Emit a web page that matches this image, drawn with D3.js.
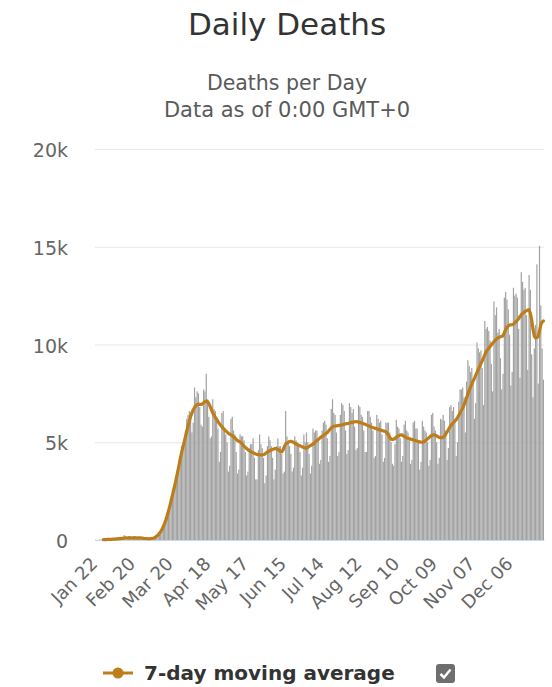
<!DOCTYPE html>
<html>
<head>
<meta charset="utf-8">
<script src="https://cdn.jsdelivr.net/npm/d3@7"></script>
<style>
  body { margin: 0; background: #fff; }
  svg text { font-family: "DejaVu Sans", Verdana, sans-serif; }
</style>
</head>
<body>
<svg id="chart" width="552" height="687"></svg>
<script>
// categories: one per day, Jan 22 .. Dec 31 2020
var firstDay = new Date(2020, 0, 22), lastDay = new Date(2021, 0, 1);
var tickLabels = ["Jan 22", "Feb 20", "Mar 20", "Apr 18", "May 17", "Jun 15",
                  "Jul 14", "Aug 12", "Sep 10", "Oct 09", "Nov 07", "Dec 06"];
var yTicks = [0, 5000, 10000, 15000, 20000];

// daily deaths
var dailyDeaths = [
  17, 1, 8, 16, 14, 26, 49, 2, 38, 42,
  46, 45, 57, 65, 66, 72, 70, 85, 87, 100,
  107, 100, 254, 13, 144, 142, 106, 98, 139, 115,
  118, 109, 97, 150, 71, 64, 37, 58, 67, 72,
  66, 71, 94, 97, 105, 140, 230, 260, 320, 400,
  470, 560, 700, 850, 1000, 1250, 1500, 1750, 2050, 2350,
  2500, 2800, 3100, 3500, 3900, 4300, 4800, 4500, 5000, 5600,
  6200, 6400, 6600, 6300, 5500, 6000, 7800, 7300, 7600, 7500,
  6800, 5900, 5800, 7700, 7600, 8500, 7200, 6300, 5200, 5300,
  7200, 6700, 6600, 6200, 5700, 4000, 4500, 6500, 6600, 5600,
  5400, 5000, 3500, 3800, 6200, 6300, 5600, 5400, 4500, 3400,
  3600, 5400, 5300, 5300, 5100, 4500, 3300, 3500, 4700, 4900,
  4900, 5200, 4200, 3100, 3100, 4600, 5400, 4900, 4700, 4200,
  2900, 3300, 4800, 5300, 5100, 4800, 4200, 3100, 3600, 4800,
  5200, 4800, 4800, 4400, 3400, 3500, 6600, 5300, 5100, 4800,
  4400, 3500, 3700, 5300, 5100, 5000, 4900, 4500, 3300, 3700,
  5400, 5000, 5500, 5000, 4400, 3400, 3800, 5700, 5500, 5600,
  5600, 5100, 3900, 4100, 5600, 6000, 6100, 5900, 5200, 4000,
  4300, 6700, 7200, 6500, 6400, 5500, 4300, 4500, 6400, 7000,
  6900, 6600, 5600, 4400, 4600, 7000, 6800, 6500, 6700, 5800,
  4600, 4700, 6900, 6800, 6400, 6300, 5600, 4500, 4500, 6600,
  6600, 6300, 6000, 5600, 4200, 4300, 6400, 6200, 6000, 6100,
  5400, 4000, 4200, 6000, 6000, 6000, 5500, 5000, 3900, 3800,
  4900, 6150, 5800, 5700, 5200, 4000, 4300, 5900, 6100, 5600,
  5500, 5100, 3900, 4100, 6000, 6100, 5700, 5700, 5000, 3600,
  4000, 6100, 5800, 5600, 5500, 5000, 3800, 4100, 6400, 6500,
  5800, 5600, 5000, 3900, 4200, 6200, 6150, 6400, 6100, 5600,
  4100, 4700, 6800, 6900, 6600, 6800, 6200, 4300, 5000, 7070,
  7700, 7700, 7800, 7300, 5500, 8100, 9200, 8900, 8600, 8800,
  8000, 6200, 7000, 10100, 9800, 9600, 9700, 8800, 6900, 11200,
  10800, 10900, 10700, 10200, 9000, 7600, 12200, 11500, 11900, 10600,
  10800, 9300, 7700, 8500, 12400, 12700, 12300, 11800, 10500, 7900,
  8600, 12900, 12500, 12600, 12400, 10800, 8300, 13700, 13200, 12800,
  12900, 11500, 8700, 13550, 12800, 9500, 7300, 9800, 11000, 14100,
  8000, 15050, 12000, 9800, 8200
];

// 7-day moving average (starts on the 7th day)
var maStart = 6;
var movingAvg = [
  20, 16, 22, 28, 31, 31, 37, 40, 43, 47,
  56, 62, 68, 74, 81, 87, 94, 118, 103, 111,
  117, 114, 112, 112, 121, 102, 115, 112, 108, 104,
  94, 85, 78, 76, 69, 64, 67, 75, 82, 110,
  150, 200, 260, 340, 430, 550, 690, 850, 1040, 1250,
  1480, 1730, 2000, 2280, 2560, 2850, 3150, 3480, 3800, 4150,
  4450, 4720, 5000, 5280, 5550, 5820, 6080, 6320, 6500, 6650,
  6780, 6870, 6920, 6950, 6940, 6930, 6960, 7020, 7070, 7100,
  7080, 6980, 6830, 6660, 6500, 6380, 6270, 6170, 6060, 5960,
  5880, 5800, 5720, 5650, 5580, 5520, 5460, 5420, 5380, 5330,
  5280, 5220, 5150, 5090, 5050, 5020, 4960, 4880, 4800, 4740,
  4680, 4620, 4570, 4530, 4490, 4460, 4430, 4400, 4380, 4370,
  4360, 4350, 4350, 4360, 4400, 4450, 4500, 4540, 4570, 4600,
  4630, 4660, 4680, 4670, 4640, 4590, 4530, 4510, 4600, 4780,
  4900, 4960, 5000, 5030, 5050, 5030, 4990, 4950, 4910, 4880,
  4850, 4820, 4790, 4760, 4730, 4710, 4700, 4740, 4790, 4830,
  4860, 4900, 4960, 5030, 5090, 5140, 5200, 5250, 5300, 5350,
  5400, 5440, 5500, 5580, 5660, 5730, 5790, 5820, 5830, 5840,
  5850, 5860, 5870, 5880, 5900, 5920, 5940, 5950, 5960, 5980,
  6000, 6020, 6030, 6050, 6060, 6050, 6030, 6010, 5990, 5970,
  5940, 5920, 5890, 5860, 5830, 5800, 5770, 5750, 5730, 5710,
  5690, 5660, 5640, 5620, 5600, 5580, 5560, 5540, 5460, 5350,
  5240, 5160, 5140, 5160, 5200, 5250, 5300, 5340, 5370, 5380,
  5350, 5300, 5260, 5220, 5200, 5180, 5160, 5140, 5120, 5100,
  5080, 5060, 5040, 5020, 5000, 5000, 5020, 5060, 5110, 5170,
  5230, 5290, 5340, 5370, 5380, 5360, 5320, 5280, 5250, 5230,
  5230, 5260, 5320, 5420, 5530, 5640, 5760, 5860, 5940, 6010,
  6080, 6150, 6260, 6380, 6500, 6620, 6740, 6900, 7080, 7270,
  7460, 7650, 7820, 7980, 8130, 8270, 8420, 8570, 8720, 8870,
  9020, 9170, 9320, 9480, 9630, 9720, 9810, 9900, 9980, 10060,
  10140, 10220, 10280, 10330, 10370, 10400, 10420, 10440, 10600, 10760,
  10880, 10950, 10990, 11010, 11020, 11040, 11100, 11170, 11240, 11320,
  11420, 11520, 11590, 11640, 11690, 11730, 11760, 11780, 11600, 11250,
  10800, 10420, 10340, 10360, 10420, 10700, 11000, 11150, 11200
];

var svg = d3.select("#chart");
var margin = {top: 149, right: 8, bottom: 147, left: 95}
  , width = 552 - margin.left - margin.right
  , height = 687 - margin.top - margin.bottom;

var days = d3.timeDay.range(firstDay, lastDay);
var fmt = d3.timeFormat("%b %d");

// titles
svg.append("text")
    .attr("x", 287).attr("y", 35)
    .attr("text-anchor", "middle")
    .attr("fill", "#333333")
    .style("font-size", "31px")
    .text("Daily Deaths");
svg.append("text")
    .attr("x", 287).attr("y", 90)
    .attr("text-anchor", "middle")
    .attr("fill", "#5a5a5a")
    .style("font-size", "20.5px")
    .text("Deaths per Day");
svg.append("text")
    .attr("x", 287).attr("y", 117)
    .attr("text-anchor", "middle")
    .attr("fill", "#5a5a5a")
    .style("font-size", "21px")
    .text("Data as of 0:00 GMT+0");

var g = svg.append("g")
    .attr("transform", "translate(" + margin.left + "," + margin.top + ")");

var xScale = d3.scaleBand()
    .domain(d3.range(dailyDeaths.length))
    .range([0, width])
    .paddingInner(0.08);

var yScale = d3.scaleLinear()
    .domain([0, 20000])
    .range([height, 0]);

// y axis with grid lines
var yAxis = g.append("g")
    .attr("class", "y axis")
    .call(d3.axisLeft(yScale)
      .tickValues(yTicks)
      .tickSize(-width)
      .tickPadding(27)
      .tickFormat(function(d) { return d === 0 ? "0" : (d / 1000) + "k"; }));
yAxis.select(".domain").remove();
yAxis.selectAll("line").attr("stroke", "#e6e6e6");
yAxis.selectAll("text")
    .attr("fill", "#666666")
    .attr("dy", "0.4em")
    .style("font-size", "19px");

// bars
g.append("g").selectAll("rect")
    .data(dailyDeaths)
  .enter().append("rect")
    .attr("x", function(d, i) { return xScale(i); })
    .attr("y", function(d) { return yScale(d); })
    .attr("width", xScale.bandwidth())
    .attr("height", function(d) { return height - yScale(d); })
    .attr("fill", "#a2a2a2");

// x axis
var tickIdx = days.map(function(d, i) { return i; })
    .filter(function(i) { return tickLabels.indexOf(fmt(days[i])) >= 0; });
var xAxis = g.append("g")
    .attr("class", "x axis")
    .attr("transform", "translate(0," + height + ")")
    .call(d3.axisBottom(xScale)
      .tickValues(tickIdx)
      .tickSize(0)
      .tickFormat(function(i) { return fmt(days[i]); }));
xAxis.select(".domain").attr("stroke", "#ccd6eb");
xAxis.selectAll("text")
    .attr("x", 0).attr("y", 0).attr("dy", 0)
    .attr("transform", "translate(3,25) rotate(-45)")
    .attr("text-anchor", "end")
    .attr("fill", "#666666")
    .style("font-size", "18px");

// moving average line
var line = d3.line()
    .x(function(d, i) { return xScale(i + maStart) + xScale.bandwidth() / 2; })
    .y(function(d) { return yScale(d); });

g.append("path")
    .datum(movingAvg)
    .attr("fill", "none")
    .attr("stroke", "#bd7d18")
    .attr("stroke-width", 3.2)
    .attr("stroke-linejoin", "round")
    .attr("stroke-linecap", "round")
    .attr("d", line);

// legend
var legend = svg.append("g").attr("transform", "translate(103,673)");
legend.append("line")
    .attr("x1", 0).attr("x2", 30)
    .attr("stroke", "#bd7d18").attr("stroke-width", 3);
legend.append("circle")
    .attr("cx", 15).attr("r", 5.5)
    .attr("fill", "#bd7d18");
legend.append("text")
    .attr("x", 41).attr("y", 7)
    .attr("fill", "#333333")
    .style("font-size", "20px")
    .style("font-weight", "bold")
    .text("7-day moving average");

// checkbox
var box = svg.append("g").attr("transform", "translate(436,664)");
box.append("rect")
    .attr("width", 19).attr("height", 19).attr("rx", 3)
    .attr("fill", "#6e6e6e");
box.append("path")
    .attr("d", "M4.5,10 L8,13.5 L14.5,5.5")
    .attr("fill", "none")
    .attr("stroke", "#fff").attr("stroke-width", 2.5);
</script>
</body>
</html>
